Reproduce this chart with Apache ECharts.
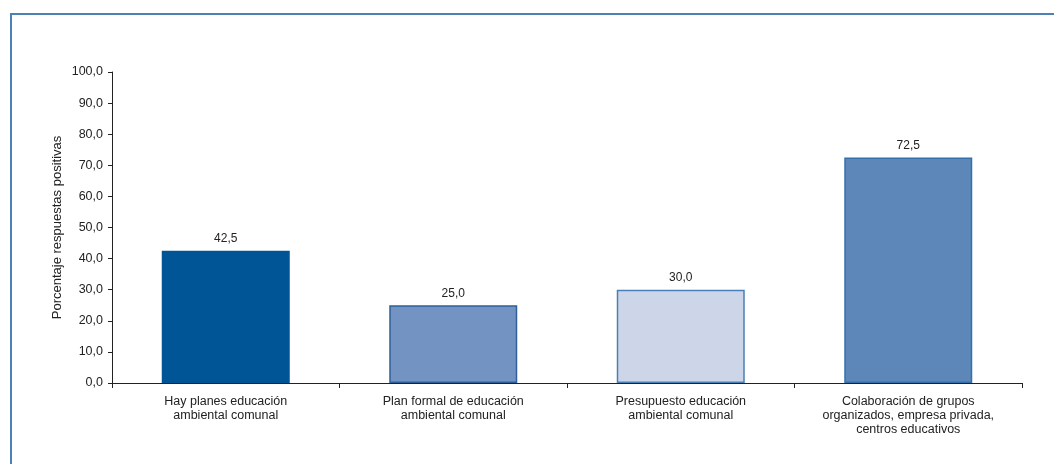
<!DOCTYPE html>
<html>
<head>
<meta charset="utf-8">
<script src="https://cdn.jsdelivr.net/npm/echarts@6/dist/echarts.min.js"></script>
<style>
html,body{margin:0;padding:0;background:#fff;}
#c{width:1054px;height:464px;}
</style>
</head>
<body>
<div id="c"></div>
<script>
const categories = [
  "Hay planes educación\nambiental comunal",
  "Plan formal de educación\nambiental comunal",
  "Presupuesto educación\nambiental comunal",
  "Colaboración de grupos\norganizados, empresa privada,\ncentros educativos"
];
const values = [42.5, 25.0, 30.0, 72.5];
const barColors = ["#005596", "#7394c2", "#cdd6e8", "#5d87b9"];
const barBorders = ["#005596", "#2e5f9a", "#4a80b6", "#3570ad"];
const yAxisName = "Porcentaje respuestas positivas";

const fmt = v => Number(v).toFixed(1).replace('.', ',');
const chart = echarts.init(document.getElementById('c'));
chart.setOption({
  animation: false,
  textStyle: { fontFamily: 'Liberation Sans, Arial, sans-serif' },
  graphic: [{
    type: 'rect', silent: true, z: 100,
    shape: { x: 11, y: 14, width: 1100, height: 500 },
    style: { fill: 'none', stroke: '#4b81b7', lineWidth: 2 }
  }],
  grid: { left: 112, right: 32, top: 72, bottom: 81 },
  xAxis: {
    type: 'category',
    data: categories,
    axisLine: { lineStyle: { color: '#222', width: 1 } },
    axisTick: { show: true, length: 5, lineStyle: { color: '#222' } },
    axisLabel: { color: '#222', fontSize: 12.5, lineHeight: 14, margin: 12, interval: 0 }
  },
  yAxis: {
    type: 'value', min: 0, max: 100, interval: 10,
    name: yAxisName, nameLocation: 'middle', nameGap: 48, nameRotate: 90,
    nameMoveOverlap: false,
    nameTextStyle: { color: '#222', fontSize: 13 },
    splitLine: { show: false },
    axisLine: { show: true, lineStyle: { color: '#222' } },
    axisTick: { show: true, length: 4, lineStyle: { color: '#222' } },
    axisLabel: { color: '#222', fontSize: 12.5, margin: 9, formatter: v => fmt(v) }
  },
  series: [{
    type: 'bar',
    barWidth: 128,
    data: values.map((v, i) => ({
      value: v,
      itemStyle: { color: barColors[i], borderColor: barBorders[i], borderWidth: 1.5 }
    })),
    label: {
      show: true, position: 'top', distance: 6, color: '#222', fontSize: 12,
      formatter: p => fmt(p.value)
    }
  }]
});
</script>
</body>
</html>
